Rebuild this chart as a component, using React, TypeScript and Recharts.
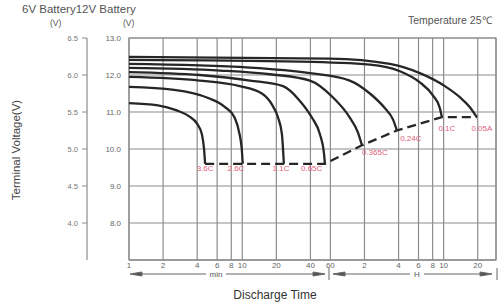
import React from "react";
import {
  LineChart,
  Line,
  XAxis,
  YAxis,
  CartesianGrid,
  ReferenceArea,
  ReferenceDot,
} from "recharts";

// discharge time ticks, in minutes (log axis)
const timeTicks = [1, 2, 4, 6, 8, 10, 20, 40, 60, 120, 240, 360, 480, 600, 1200];
const timeLabels = ["1", "2", "4", "6", "8", "10", "20", "40", "60", "2", "4", "6", "8", "10", "20"];
const volt12Ticks = [8, 9, 10, 11, 12, 13];
const volt6Ticks = [4.0, 4.5, 5.0, 5.5, 6.0, 6.5];

// one discharge curve per rate: t = minutes, v = 12V terminal voltage
const rate36 = [
  { t: 1, v: 11.24 }, { t: 1.8, v: 11.18 }, { t: 2.6, v: 11.05 }, { t: 3.4, v: 10.88 },
  { t: 4.0, v: 10.68 }, { t: 4.4, v: 10.4 }, { t: 4.6, v: 10.0 }, { t: 4.7, v: 9.6 },
];
const rate26 = [
  { t: 1, v: 11.68 }, { t: 2.5, v: 11.6 }, { t: 5, v: 11.38 }, { t: 7, v: 11.14 },
  { t: 8.6, v: 10.84 }, { t: 9.5, v: 10.38 }, { t: 9.9, v: 10.0 }, { t: 10.1, v: 9.6 },
];
const rate11 = [
  { t: 1, v: 11.95 }, { t: 4.2, v: 11.85 }, { t: 9.5, v: 11.7 }, { t: 14.9, v: 11.5 },
  { t: 18.3, v: 11.2 }, { t: 20.7, v: 10.85 }, { t: 22.4, v: 10.4 }, { t: 23.3, v: 9.6 },
];
const rate065 = [
  { t: 1, v: 12.08 }, { t: 4.2, v: 12.0 }, { t: 11.7, v: 11.85 }, { t: 22.9, v: 11.7 },
  { t: 32.3, v: 11.3 }, { t: 41.2, v: 10.85 }, { t: 48.5, v: 10.4 }, { t: 52.6, v: 9.9 },
  { t: 53.7, v: 9.6 },
];
const rate0365 = [
  { t: 1, v: 12.19 }, { t: 6.4, v: 12.12 }, { t: 17.6, v: 12.02 }, { t: 39.6, v: 11.85 },
  { t: 63, v: 11.4 }, { t: 89, v: 10.85 }, { t: 105, v: 10.45 }, { t: 114, v: 10.1 },
];
const rate024 = [
  { t: 1, v: 12.3 }, { t: 11.7, v: 12.2 }, { t: 39.6, v: 12.05 }, { t: 89, v: 11.85 },
  { t: 134, v: 11.5 }, { t: 182, v: 11.1 }, { t: 214, v: 10.8 }, { t: 232, v: 10.5 },
];
const rate01 = [
  { t: 1, v: 12.41 }, { t: 32, v: 12.36 }, { t: 134, v: 12.28 }, { t: 247, v: 12.1 },
  { t: 370, v: 11.8 }, { t: 482, v: 11.45 }, { t: 556, v: 11.1 }, { t: 579, v: 10.86 },
];
const rate005 = [
  { t: 1, v: 12.49 }, { t: 59, v: 12.44 }, { t: 201, v: 12.3 }, { t: 370, v: 12.05 },
  { t: 615, v: 11.7 }, { t: 834, v: 11.4 }, { t: 1023, v: 11.13 }, { t: 1178, v: 10.86 },
];

// final voltage line joining the curve ends
const cutoff = [
  { t: 4.7, v: 9.6 }, { t: 53.7, v: 9.6 }, { t: 114, v: 10.1 },
  { t: 232, v: 10.5 }, { t: 579, v: 10.86 }, { t: 1178, v: 10.86 },
];

const rateNames = ["3.6C", "2.6C", "1.1C", "0.65C", "0.365C", "0.24C", "0.1C", "0.05A"];
const labelTimes = [4.7, 8.8, 22, 41, 148, 308, 641, 1306];
const labelVolts = [9.49, 9.49, 9.49, 9.49, 9.92, 10.3, 10.57, 10.57];

const curves = [rate36, rate26, rate11, rate065, rate0365, rate024, rate01, rate005];

const FONT = "'Liberation Sans', Arial, sans-serif";
const GRID = "#8c8c8c";
const INK = "#262626";
const PINK = "#e0607a";

export default function App() {
  return (
    <div style={{ position: "absolute", left: 0, top: 0, width: 504, height: 304, background: "#fff", fontFamily: FONT }}>
      <LineChart width={504} height={304} margin={{ top: 38, right: 8, bottom: 0, left: 0 }}>
        <CartesianGrid yAxisId="v12" stroke={GRID} strokeWidth={1.2} />
        <XAxis
          dataKey="t"
          type="number"
          scale="log"
          domain={[1, 1740]}
          allowDataOverflow
          ticks={timeTicks}
          interval={0}
          tickFormatter={(value, i) => timeLabels[i]}
          height={44}
          tickLine={false}
          tickSize={0}
          tickMargin={2}
          axisLine={{ stroke: GRID, strokeWidth: 1.2 }}
          tick={{ fontSize: 8, fill: "#666", fontFamily: FONT }}
        />
        <YAxis
          yAxisId="v12"
          type="number"
          domain={[7, 13]}
          ticks={volt12Ticks}
          interval={0}
          width={42}
          axisLine={false}
          tickLine={false}
          tickFormatter={(v) => v.toFixed(1)}
          tick={{ fontSize: 8, fill: "#666", fontFamily: FONT }}
        />
        <YAxis
          yAxisId="v6"
          type="number"
          domain={[3.5, 6.5]}
          allowDataOverflow
          ticks={volt6Ticks}
          interval={0}
          width={87}
          axisLine={{ stroke: GRID, strokeWidth: 1.2 }}
          tickLine={{ stroke: GRID }}
          tickSize={5}
          tickMargin={4}
          tickFormatter={(v) => v.toFixed(1)}
          tick={{ fontSize: 7.5, fill: "#777", fontFamily: FONT }}
        />
        <ReferenceArea yAxisId="v12" x1={1} x2={1740} y1={7} y2={13} fill="none" stroke={GRID} strokeWidth={1.2} />
        {/* same curve read on the 6V scale, kept invisible so the 6V axis is bound */}
        <Line
          yAxisId="v6"
          data={rate36}
          dataKey={(d) => d.v / 2}
          stroke="none"
          dot={false}
          activeDot={false}
          isAnimationActive={false}
        />
        {curves.map((data, i) => (
          <Line
            key={rateNames[i]}
            yAxisId="v12"
            data={data}
            dataKey="v"
            type="monotone"
            stroke={INK}
            strokeWidth={2.3}
            dot={false}
            isAnimationActive={false}
          />
        ))}
        <Line
          yAxisId="v12"
          data={cutoff}
          dataKey="v"
          type="linear"
          stroke={INK}
          strokeWidth={2.3}
          strokeDasharray="9 5"
          dot={false}
          isAnimationActive={false}
        />
        {rateNames.map((name, i) => (
          <ReferenceDot
            key={"lbl" + name}
            yAxisId="v12"
            x={labelTimes[i]}
            y={labelVolts[i]}
            r={0}
            fill="none"
            stroke="none"
            label={{ value: name, position: "center", fill: PINK, fontSize: 8, fontFamily: FONT }}
          />
        ))}
      </LineChart>

      {/* unit arrows under the time axis */}
      <svg width={504} height={304} style={{ position: "absolute", left: 0, top: 0, pointerEvents: "none" }}>
        <g stroke="#666" strokeWidth={1} fill="#555">
          <line x1={134} y1={274} x2={206} y2={274} />
          <line x1={226} y1={274} x2={320} y2={274} />
          <polygon points="130,274 142,272 142,276" />
          <polygon points="325,274 313,272 313,276" />
          <line x1={329} y1={268} x2={329} y2={280} />
          <line x1={337} y1={274} x2={410} y2={274} />
          <line x1={424} y1={274} x2={488} y2={274} />
          <polygon points="333,274 345,272 345,276" />
          <polygon points="492,274 480,272 480,276" />
          <line x1={497} y1={268} x2={497} y2={280} />
        </g>
        <text x={216} y={277} fontSize={8} fill="#555" textAnchor="middle" fontFamily={FONT}>min</text>
        <text x={417} y={277} fontSize={8} fill="#555" textAnchor="middle" fontFamily={FONT}>H</text>
      </svg>

      <div style={{ position: "absolute", left: 22, top: 4, fontSize: 11.5, color: "#555", whiteSpace: "nowrap", lineHeight: 1 }}>
        6V Battery12V Battery
      </div>
      <div style={{ position: "absolute", left: 50, top: 19, fontSize: 8.5, color: "#555", lineHeight: 1 }}>(V)</div>
      <div style={{ position: "absolute", left: 123, top: 19, fontSize: 8.5, color: "#555", lineHeight: 1 }}>(V)</div>
      <div style={{ position: "absolute", left: 408, top: 15, fontSize: 10.5, color: "#555", whiteSpace: "nowrap", lineHeight: 1 }}>
        Temperature 25℃
      </div>
      <div
        style={{
          position: "absolute",
          left: 17,
          top: 150,
          transform: "translate(-50%, -50%) rotate(-90deg)",
          fontSize: 11.5,
          color: "#444",
          whiteSpace: "nowrap",
          lineHeight: 1,
        }}
      >
        Terminal Voltage(V)
      </div>
      <div
        style={{
          position: "absolute",
          left: 275,
          top: 295,
          transform: "translate(-50%, -50%)",
          fontSize: 12,
          color: "#333",
          whiteSpace: "nowrap",
          lineHeight: 1,
        }}
      >
        Discharge Time
      </div>
    </div>
  );
}
